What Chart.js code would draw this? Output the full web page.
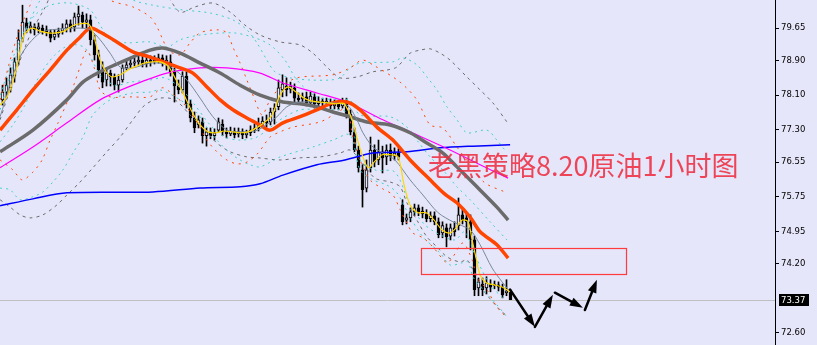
<!DOCTYPE html>
<html>
<head>
<meta charset="utf-8">
<script src="https://cdn.jsdelivr.net/npm/chart.js@4.4.0/dist/chart.umd.min.js"></script>
<style>
  html, body { margin: 0; padding: 0; background: #e6e6fa; }
  #wrap { position: relative; width: 817px; height: 345px; }
</style>
</head>
<body>
<div id="wrap"><canvas id="chart"></canvas></div>
<script>
// hourly candles, oldest first
const opens = [
  77.99, 78.17, 78.27, 78.54, 78.91, 79.42, 79.77, 79.65, 79.68, 79.63,
  79.65, 79.61, 79.56, 79.44, 79.51, 79.58, 79.65, 79.75, 79.68, 79.91,
  79.95, 79.79, 79.84, 79.38, 79.03, 78.68, 78.45, 78.61, 78.52, 78.33,
  78.45, 78.73, 78.80, 78.84, 78.87, 78.91, 78.82, 78.91, 78.87, 78.91,
  78.96, 78.84, 78.87, 78.64, 78.31, 78.22, 78.54, 77.90, 77.57, 77.41,
  77.48, 77.16, 77.25, 77.16, 77.29, 77.43, 77.25, 77.20, 77.27, 77.20,
  77.25, 77.18, 77.23, 77.29, 77.34, 77.43, 77.50, 77.48, 77.71, 77.83,
  78.22, 78.31, 78.24, 78.27, 78.03, 78.01, 78.06, 77.92, 78.06, 77.90,
  77.96, 77.92, 77.94, 77.85, 77.90, 77.85, 77.90, 77.66, 77.25, 76.83,
  76.37, 75.95, 76.42, 76.83, 76.60, 76.79, 76.67, 76.83, 76.69, 76.76,
  75.56, 75.21, 75.26, 75.40, 75.49, 75.42, 75.35, 75.24, 75.31, 75.17,
  74.91, 75.03, 74.84, 75.03, 75.08, 75.33, 75.26, 75.17, 74.75, 73.64,
  73.73, 73.64, 73.73, 73.69, 73.71, 73.66, 73.53, 73.55
];
const highs = [
  78.33, 78.50, 78.73, 78.96, 79.61, 80.18, 79.88, 79.79, 79.75, 79.77,
  79.72, 79.70, 79.61, 79.61, 79.65, 79.75, 79.84, 79.84, 80.00, 80.16,
  80.02, 79.98, 79.95, 79.49, 79.14, 78.87, 78.68, 78.68, 78.59, 78.57,
  78.80, 78.91, 78.96, 78.96, 79.01, 79.01, 79.03, 79.01, 79.01, 79.05,
  79.03, 79.01, 79.03, 78.73, 78.45, 78.64, 78.64, 77.99, 77.71, 77.62,
  77.57, 77.34, 77.34, 77.32, 77.57, 77.53, 77.34, 77.36, 77.34, 77.34,
  77.32, 77.29, 77.39, 77.43, 77.57, 77.60, 77.64, 77.80, 77.90, 78.45,
  78.57, 78.50, 78.40, 78.36, 78.15, 78.15, 78.17, 78.17, 78.13, 78.06,
  78.03, 78.03, 78.01, 77.99, 77.96, 78.03, 78.03, 77.76, 77.34, 76.92,
  76.49, 76.60, 77.13, 76.95, 77.06, 76.92, 76.95, 76.97, 76.88, 76.86,
  75.68, 75.35, 75.49, 75.58, 75.56, 75.51, 75.45, 75.40, 75.40, 75.26,
  75.17, 75.12, 75.12, 75.17, 75.72, 75.49, 75.38, 75.33, 74.84, 73.87,
  73.87, 73.90, 73.83, 73.80, 73.78, 73.73, 73.83, 73.60
];
const lows = [
  77.87, 78.03, 78.17, 78.40, 78.80, 79.33, 79.54, 79.54, 79.49, 79.54,
  79.51, 79.47, 79.33, 79.38, 79.44, 79.51, 79.56, 79.56, 79.58, 79.72,
  79.65, 79.65, 79.26, 78.91, 78.50, 78.27, 78.31, 78.31, 78.22, 78.17,
  78.40, 78.68, 78.73, 78.77, 78.80, 78.75, 78.75, 78.77, 78.82, 78.84,
  78.77, 78.68, 78.54, 77.94, 78.13, 78.15, 77.80, 77.48, 77.23, 77.34,
  76.99, 76.92, 77.09, 77.06, 77.25, 77.16, 77.11, 77.16, 77.11, 77.13,
  77.09, 77.11, 77.16, 77.23, 77.27, 77.36, 77.36, 77.41, 77.43, 77.76,
  78.06, 78.08, 78.15, 77.92, 77.90, 77.94, 77.85, 77.83, 77.80, 77.80,
  77.83, 77.85, 77.78, 77.78, 77.76, 77.80, 77.57, 77.18, 76.79, 76.32,
  75.51, 75.86, 76.32, 76.44, 76.49, 76.30, 76.49, 76.58, 76.60, 76.60,
  75.10, 75.12, 75.17, 75.31, 75.31, 75.26, 75.17, 75.17, 75.10, 74.80,
  74.80, 74.59, 74.75, 74.84, 74.98, 75.12, 74.80, 74.52, 73.46, 73.46,
  73.46, 73.50, 73.55, 73.62, 73.57, 73.41, 73.46, 73.37
];
const closes = [
  78.17, 78.33, 78.57, 78.87, 79.38, 79.79, 79.65, 79.70, 79.61, 79.68,
  79.58, 79.56, 79.42, 79.51, 79.58, 79.65, 79.75, 79.65, 79.91, 79.98,
  79.79, 79.84, 79.38, 79.03, 78.68, 78.40, 78.61, 78.52, 78.33, 78.45,
  78.73, 78.80, 78.84, 78.87, 78.91, 78.82, 78.91, 78.87, 78.91, 78.96,
  78.84, 78.91, 78.64, 78.31, 78.22, 78.54, 77.90, 77.57, 77.34, 77.53,
  77.16, 77.25, 77.16, 77.23, 77.48, 77.25, 77.20, 77.27, 77.18, 77.25,
  77.18, 77.23, 77.29, 77.34, 77.43, 77.50, 77.46, 77.71, 77.80, 78.27,
  78.36, 78.22, 78.31, 78.03, 77.99, 78.06, 77.92, 78.08, 77.90, 77.96,
  77.92, 77.96, 77.85, 77.90, 77.83, 77.94, 77.66, 77.25, 76.83, 76.42,
  75.91, 76.37, 76.83, 76.55, 76.79, 76.65, 76.83, 76.69, 76.76, 76.67,
  75.17, 75.26, 75.40, 75.49, 75.40, 75.35, 75.24, 75.31, 75.17, 74.87,
  75.08, 74.82, 75.03, 74.94, 75.33, 75.21, 75.17, 74.75, 73.60, 73.78,
  73.60, 73.76, 73.66, 73.73, 73.66, 73.48, 73.57, 73.37
];

// indicator lines: [bar index, price]
const maYellow = [[-0.6,77.87],[1.4,78.10],[3.4,78.68],[5.4,79.49],[7.4,79.65],[9.4,79.58],[11.4,79.54],[13.4,79.54],[15.4,79.58],[17.4,79.70],[19.4,79.75],[21.4,79.75],[22.4,79.61],[23.4,79.26],[24.4,78.91],[25.9,78.64],[27.4,78.52],[29.4,78.57],[31.4,78.68],[33.4,78.77],[35.4,78.84],[37.4,78.87],[39.4,78.87],[41.4,78.77],[43.4,78.45],[45.4,78.10],[47.4,77.71],[49.4,77.41],[51.4,77.25],[53.4,77.23],[55.4,77.27],[57.4,77.25],[59.4,77.23],[61.4,77.25],[63.4,77.34],[65.4,77.46],[67.4,77.64],[69.4,78.10],[71.4,78.29],[73.4,78.17],[75.4,78.03],[77.4,77.96],[79.4,77.94],[81.4,77.92],[83.4,77.90],[85.4,77.90],[87.4,77.53],[88.4,77.18],[89.9,76.72],[91.4,76.42],[92.9,76.55],[94.9,76.72],[96.9,76.72],[98.9,76.67],[100.4,76.02],[101.9,75.56],[103.9,75.38],[105.9,75.38],[107.9,75.21],[109.9,74.98],[111.9,74.91],[113.4,75.03],[114.9,75.21],[116.4,75.17],[117.4,74.75],[118.4,74.33],[119.4,73.94],[120.9,73.76],[122.9,73.71],[124.9,73.66],[126.9,73.55]];
const maSlate = [[-0.6,77.60],[4.4,78.98],[9.4,79.54],[14.4,79.63],[19.4,79.65],[21.9,79.61],[24.4,79.38],[26.9,79.07],[29.4,78.75],[32.6,78.73],[36.9,78.84],[40.6,78.82],[43.1,78.68],[46.1,78.45],[49.4,78.03],[52.6,77.60],[56.1,77.29],[59.4,77.25],[63.1,77.27],[65.1,77.36],[68.6,77.60],[71.1,77.83],[74.4,77.94],[81.1,77.92],[86.1,77.87],[88.6,77.53],[90.1,77.23],[92.6,76.90],[95.1,76.76],[98.1,76.60],[101.9,76.14],[105.1,75.79],[108.9,75.38],[112.6,75.17],[116.9,74.98],[119.4,74.64],[122.4,74.10],[124.9,73.78],[126.9,73.55]];
const maRed = [[-0.6,77.29],[3.6,77.76],[7.6,78.22],[11.9,78.68],[16.1,79.14],[19.4,79.44],[21.9,79.65],[24.4,79.56],[28.6,79.33],[32.6,79.10],[36.9,78.98],[41.1,78.84],[44.4,78.73],[47.6,78.61],[51.1,78.29],[54.4,77.99],[57.6,77.76],[61.1,77.57],[64.4,77.41],[66.9,77.29],[70.1,77.46],[74.4,77.60],[78.6,77.76],[82.6,77.92],[86.1,77.94],[89.4,77.76],[93.6,77.36],[97.6,77.06],[101.9,76.60],[106.9,76.14],[110.6,75.81],[113.6,75.61],[116.9,75.28],[119.4,74.94],[123.6,74.64],[126.4,74.33]];
const maGray = [[-0.6,76.79],[7.6,77.29],[16.1,77.99],[20.1,78.40],[24.4,78.64],[28.6,78.82],[32.6,78.98],[36.9,79.14],[40.1,79.19],[44.4,79.07],[49.4,78.84],[54.4,78.61],[59.4,78.33],[64.4,78.10],[70.1,77.94],[74.4,77.90],[78.6,77.83],[82.6,77.71],[86.9,77.60],[91.1,77.48],[96.9,77.41],[101.9,77.23],[106.1,76.99],[110.1,76.76],[113.6,76.44],[118.6,75.98],[123.6,75.51],[126.4,75.21]];
const maMagenta = [[-0.6,76.42],[7.6,76.90],[16.1,77.46],[24.4,77.99],[32.6,78.33],[41.1,78.61],[49.4,78.73],[56.1,78.73],[64.4,78.61],[70.1,78.38],[78.6,78.15],[86.1,77.94],[95.1,77.53],[103.6,77.18],[111.9,76.83],[119.4,76.49],[126.4,76.18]];
const maBlue = [[-0.6,75.54],[7.6,75.70],[16.1,75.84],[37.6,75.86],[49.4,75.95],[59.4,75.98],[64.4,76.05],[70.1,76.25],[78.6,76.49],[85.6,76.60],[92.6,76.76],[101.1,76.79],[109.4,76.88],[117.6,76.92],[126.9,76.95]];

// bollinger style bands
const bandRedUp = [[-0.6,77.99],[1.9,78.91],[4.4,79.65],[6.9,80.18],[8.4,80.53],[14.4,80.76],[21.9,80.76],[26.9,80.30],[32.6,80.14],[36.9,79.91],[38.6,79.68],[40.1,79.38],[41.4,79.14],[44.4,79.03],[46.9,79.31],[49.4,79.54],[53.6,79.61],[56.1,79.54],[57.6,79.21],[59.4,78.84],[61.1,78.45],[63.1,77.99],[64.9,77.64],[66.9,77.99],[69.4,78.27],[73.6,78.50],[82.6,78.57],[86.9,78.73],[89.9,78.91],[92.6,78.80],[99.4,78.40],[103.6,77.99],[106.9,77.41],[110.1,77.34],[113.6,76.90],[116.9,76.49],[120.6,76.07],[125.6,75.86]];
const bandRedDown = [[-0.6,76.60],[2.6,76.37],[4.9,76.14],[7.6,76.32],[9.9,76.60],[11.9,77.06],[13.9,77.46],[16.9,78.10],[19.4,78.75],[21.1,79.14],[23.1,78.68],[24.4,78.22],[26.9,78.06],[32.6,78.06],[36.9,78.06],[39.9,78.27],[41.9,78.17],[45.6,77.87],[48.6,77.48],[51.1,77.06],[53.6,76.79],[56.1,76.60],[58.6,76.51],[61.1,76.55],[63.9,76.76],[66.9,77.13],[69.4,77.25],[72.6,77.36],[79.4,77.48],[83.6,77.69],[86.1,77.80],[87.6,77.13],[89.4,76.60],[91.9,76.14],[95.1,75.93],[97.6,75.79],[99.4,75.45],[101.1,75.14],[102.6,74.91],[105.1,74.80],[107.6,74.59],[111.1,74.22],[112.6,74.36],[115.1,74.68],[117.4,74.29],[118.6,73.90],[121.1,73.60],[123.6,73.20],[126.1,72.95]];
const bandCyanUp = [[-0.6,77.76],[3.1,78.91],[6.9,79.84],[9.4,80.30],[11.9,80.76],[29.4,80.53],[32.6,80.30],[37.6,80.18],[45.1,80.07],[51.9,80.00],[57.6,79.84],[61.1,79.61],[63.6,79.31],[66.1,78.91],[68.1,78.64],[71.9,78.50],[76.9,78.45],[81.9,78.45],[84.4,78.50],[86.9,78.73],[89.4,78.84],[97.6,78.87],[100.1,78.96],[103.6,78.80],[106.1,78.52],[108.6,78.22],[111.1,77.83],[113.6,77.53],[116.1,77.23],[121.1,77.29],[123.6,77.06],[125.6,76.83]];
const bandCyanDown = [[-0.6,75.95],[1.9,75.91],[4.4,75.68],[7.6,75.75],[10.1,75.86],[12.6,76.09],[15.1,76.37],[17.6,76.76],[20.1,77.13],[22.6,77.64],[26.9,77.99],[32.6,78.15],[36.9,78.17],[39.4,78.22],[44.4,77.99],[48.6,77.69],[51.1,77.36],[53.6,77.06],[56.9,76.76],[59.4,76.60],[61.9,76.49],[64.4,76.44],[69.4,76.67],[77.6,76.90],[82.6,77.06],[86.9,77.18],[89.4,76.37],[92.6,76.14],[96.1,76.02],[98.6,75.84],[101.9,75.28],[105.1,74.82],[109.4,74.45],[111.9,74.17],[114.9,74.22],[116.4,74.24],[117.6,73.90],[120.1,73.60],[123.6,73.25],[126.1,72.97]];
const bandAquaUp = [[-0.6,78.10],[2.4,78.91],[5.6,79.61],[8.1,79.95],[11.9,80.18],[16.9,80.23],[21.9,80.07],[24.4,79.72],[26.9,79.38],[31.1,79.31],[36.9,79.33],[41.1,79.21],[44.4,79.38],[49.4,79.49],[57.6,79.54],[62.6,79.44],[66.9,79.26],[70.6,78.91],[73.6,78.45],[78.6,78.06],[84.4,77.99],[86.9,77.99],[89.4,77.64],[96.9,77.60],[101.1,77.36],[103.6,77.06],[106.9,76.67],[110.1,76.37],[113.6,75.98],[116.9,75.68],[121.9,75.17],[126.1,74.75]];
const bandAquaDown = [[-0.6,77.02],[2.6,77.41],[5.6,77.87],[9.4,78.57],[13.1,79.03],[16.9,79.26],[20.6,79.19],[24.4,78.57],[28.1,78.33],[31.9,78.40],[36.9,78.45],[40.6,78.50],[44.4,78.27],[48.1,77.87],[51.9,77.41],[55.6,77.13],[59.4,77.06],[63.1,77.11],[65.6,77.25],[69.4,77.53],[74.4,77.76],[79.4,77.76],[84.4,77.76],[86.9,77.64],[89.4,76.60],[93.1,76.37],[98.1,76.32],[101.9,75.56],[105.6,75.10],[109.4,74.87],[113.1,74.75],[115.6,74.94],[118.1,74.40],[121.9,73.71],[125.6,73.37]];
const bandGrayUp = [[-0.6,77.53],[3.1,78.57],[6.9,79.49],[10.6,80.12],[13.1,80.53],[24.4,80.99],[40.6,80.42],[44.4,80.02],[48.1,80.14],[52.6,80.23],[56.9,80.02],[60.6,79.72],[64.4,79.49],[69.4,79.33],[74.4,79.26],[77.6,79.07],[81.1,78.75],[84.4,78.50],[88.6,78.52],[92.6,78.64],[96.1,78.68],[98.6,78.75],[101.9,79.07],[104.4,79.14],[106.9,79.17],[109.4,79.07],[111.9,78.91],[116.1,78.52],[119.4,78.22],[122.6,77.92],[126.1,77.48]];
const bandGrayDown = [[-0.6,75.68],[1.9,75.51],[4.4,75.33],[6.9,75.26],[10.1,75.33],[13.6,75.56],[16.1,75.79],[19.4,76.09],[22.6,76.42],[26.1,76.79],[29.4,77.13],[32.6,77.53],[35.6,77.87],[39.4,78.03],[43.1,77.99],[46.9,77.64],[50.6,77.29],[53.6,76.99],[56.9,76.79],[61.1,76.67],[63.9,76.65],[69.4,76.60],[74.4,76.65],[79.4,76.67],[84.4,76.76],[86.9,76.83],[89.4,76.60],[93.1,76.18],[96.9,76.09],[99.4,75.98],[101.1,75.61],[103.6,75.21],[106.1,74.82],[108.6,74.59],[111.1,74.36],[114.4,74.24],[116.1,74.29],[117.6,74.06],[120.1,73.60],[124.4,73.13],[126.4,72.97]];

// drawn annotations
const arrowFrom = [[126.9, 73.60], [133.1, 72.74], [138.1, 73.53], [145.6, 73.13]];
const arrowTo   = [[133.1, 72.74], [137.6, 73.48], [145.1, 73.18], [148.6, 73.83]];
const zoneX = [104.6, 155.9];
const zoneY = [73.97, 74.57];
const lastPrice = 73.37;
const tickValues = [79.65, 78.90, 78.10, 77.30, 76.55, 75.75, 74.95, 74.20, 72.60];
const titleText = '老黑策略8.20原油1小时图';

const bg = '#e6e6fa';
const axisFont = { family: 'DejaVu Sans', size: 8.5 };

const toPts = arr => arr.map(p => ({ x: p[0], y: p[1] }));

function lineSet(data, color, width, dash, order) {
  return {
    type: 'line',
    data: toPts(data),
    borderColor: color,
    borderWidth: width,
    borderDash: dash || [],
    pointRadius: 0,
    tension: 0.3,
    fill: false,
    order: order
  };
}

function drawArrow(ctx, x0, y0, x1, y1) {
  const ang = Math.atan2(y1 - y0, x1 - x0);
  const head = 13, hw = 4.5;
  const bx = x1 - head * Math.cos(ang), by = y1 - head * Math.sin(ang);
  ctx.lineWidth = 2.5;
  ctx.beginPath();
  ctx.moveTo(x0, y0);
  ctx.lineTo(bx, by);
  ctx.stroke();
  ctx.beginPath();
  ctx.moveTo(x1, y1);
  ctx.lineTo(bx + hw * Math.sin(ang), by - hw * Math.cos(ang));
  ctx.lineTo(bx - hw * Math.sin(ang), by + hw * Math.cos(ang));
  ctx.closePath();
  ctx.fill();
}

const overlay = {
  id: 'overlay',
  beforeDatasetsDraw(chart) {
    const { ctx, chartArea: a, scales: { y } } = chart;
    const py = Math.round(y.getPixelForValue(lastPrice)) + 0.5;
    ctx.save();
    ctx.strokeStyle = '#c0c0c0';
    ctx.lineWidth = 1;
    ctx.beginPath();
    ctx.moveTo(a.left, py);
    ctx.lineTo(a.right, py);
    ctx.stroke();
    ctx.restore();
  },
  afterDatasetsDraw(chart) {
    const { ctx, chartArea: a, scales: { x, y } } = chart;
    ctx.save();
    // target zone
    const zx0 = x.getPixelForValue(zoneX[0]), zx1 = x.getPixelForValue(zoneX[1]);
    const zy0 = y.getPixelForValue(zoneY[1]), zy1 = y.getPixelForValue(zoneY[0]);
    ctx.strokeStyle = '#ff3b3b';
    ctx.lineWidth = 1.2;
    ctx.strokeRect(Math.round(zx0) + 0.5, Math.round(zy0) + 0.5, Math.round(zx1 - zx0), Math.round(zy1 - zy0));
    // path arrows
    ctx.strokeStyle = '#000';
    ctx.fillStyle = '#000';
    ctx.lineCap = 'round';
    arrowFrom.forEach((p, i) => {
      const q = arrowTo[i];
      drawArrow(ctx, x.getPixelForValue(p[0]), y.getPixelForValue(p[1]),
        x.getPixelForValue(q[0]), y.getPixelForValue(q[1]));
    });
    // title
    ctx.font = '27px "Noto Sans CJK SC"';
    ctx.fillStyle = 'rgba(238, 45, 65, 0.88)';
    ctx.textBaseline = 'middle';
    ctx.textAlign = 'left';
    ctx.fillText(titleText, a.left + 428, 166);
    ctx.restore();
  },
  afterDraw(chart) {
    const { ctx, chartArea: a, scales: { y } } = chart;
    const py = Math.round(y.getPixelForValue(lastPrice));
    ctx.save();
    ctx.fillStyle = '#000';
    ctx.fillRect(a.right + 4, py - 6, 30, 12);
    ctx.fillStyle = '#fff';
    ctx.font = axisFont.size + 'px "' + axisFont.family + '"';
    ctx.textBaseline = 'middle';
    ctx.fillText(lastPrice.toFixed(2), a.right + 6, py + 0.5);
    ctx.restore();
  }
};

const wickData = highs.map((h, i) => ({ x: i, y: [lows[i], h] }));
const bodyData = closes.map((c, i) => ({ x: i, y: [opens[i], c] }));

new Chart(document.getElementById('chart'), {
  type: 'bar',
  data: {
    datasets: [
      lineSet(maYellow, '#ffd700', 1.2, null, 1),
      lineSet(maSlate, '#778899', 1, null, 2),
      lineSet(maRed, '#ff4500', 3.5, null, 3),
      lineSet(maGray, '#6b6b6b', 3.5, null, 4),
      lineSet(maMagenta, '#ff00ff', 1.2, null, 5),
      lineSet(maBlue, '#0000ff', 1.5, null, 6),
      lineSet(bandRedUp, '#ff4500', 1, [2, 5], 7),
      lineSet(bandRedDown, '#ff4500', 1, [2, 5], 7),
      lineSet(bandCyanUp, '#40d0c8', 1, [2, 4], 7),
      lineSet(bandCyanDown, '#40d0c8', 1, [2, 4], 7),
      lineSet(bandAquaUp, '#40d0c8', 1, [2, 4], 7),
      lineSet(bandAquaDown, '#40d0c8', 1, [2, 4], 7),
      lineSet(bandGrayUp, '#6b6b6b', 1, [3, 4], 7),
      lineSet(bandGrayDown, '#6b6b6b', 1, [3, 4], 7),
      {
        type: 'bar',
        data: bodyData,
        barThickness: 3,
        grouped: false,
        borderSkipped: false,
        borderWidth: 1,
        borderColor: '#000',
        backgroundColor: ctx => (closes[ctx.dataIndex] >= opens[ctx.dataIndex] ? bg : '#000'),
        order: 8
      },
      {
        type: 'bar',
        data: wickData,
        barThickness: 1,
        grouped: false,
        borderWidth: 0,
        backgroundColor: '#000',
        order: 9
      }
    ]
  },
  options: {
    responsive: true,
    maintainAspectRatio: false,
    animation: false,
    layout: { padding: 0 },
    plugins: { legend: { display: false }, tooltip: { enabled: false } },
    scales: {
      x: {
        type: 'linear',
        display: false,
        min: -0.625,
        max: 193.125,
        offset: false
      },
      y: {
        position: 'right',
        min: 72.32,
        max: 80.30,
        afterBuildTicks: s => { s.ticks = tickValues.map(v => ({ value: v })); },
        afterFit: s => { s.width = 42; s.paddingTop = 0; s.paddingBottom = 0; },
        border: { display: true, color: '#000', width: 1 },
        grid: { drawOnChartArea: false, color: '#000', tickLength: 4 },
        ticks: {
          padding: 2,
          color: '#000',
          font: axisFont,
          autoSkip: false,
          callback: v => Number(v).toFixed(2)
        }
      }
    }
  },
  plugins: [overlay]
});
</script>
</body>
</html>
